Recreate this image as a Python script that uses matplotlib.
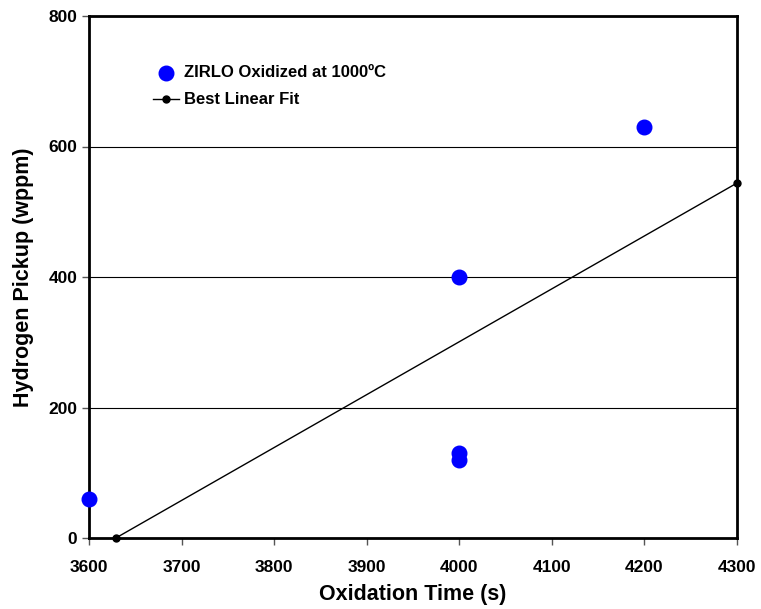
import numpy as np
import matplotlib.pyplot as plt

plt.rcParams['font.family'] = ['Liberation Sans', 'DejaVu Sans']
plt.rcParams['font.weight'] = 'bold'

# Datos medidos
tiempo_s = [3600, 4000, 4000, 4000, 4200]
hidrogeno_wppm = [60, 400, 130, 120, 630]

# Ajuste lineal (extremos)
ajuste_x = [3629, 4300]
ajuste_y = [0, 544]

x_ticks = [3600, 3700, 3800, 3900, 4000, 4100, 4200, 4300]
y_ticks = [0, 200, 400, 600, 800]

fig = plt.figure(figsize=(7.61, 6.09), dpi=100)
ax = fig.add_axes([89 / 761, 71 / 609, 648 / 761, 522 / 609])

ax.scatter(tiempo_s, hidrogeno_wppm, s=110, color="#0000ff", zorder=3,
           label="ZIRLO Oxidized at 1000ºC", clip_on=False)
ax.plot(ajuste_x, ajuste_y, color="black", linewidth=1, marker="o",
        markersize=5, label="Best Linear Fit", clip_on=False, zorder=4)

ax.set_xlim(3600, 4300)
ax.set_ylim(0, 800)
ax.set_xticks(x_ticks)
ax.set_yticks(y_ticks)
ax.yaxis.grid(True, color="black", linewidth=0.8)
ax.set_axisbelow(True)

for lado in ["left", "right", "top", "bottom"]:
    ax.spines[lado].set_linewidth(2)

ax.tick_params(axis="both", labelsize=12.5, width=1, length=5, direction="out",
               color="#555555")
ax.tick_params(axis="x", pad=11)
for etiqueta in ax.get_xticklabels() + ax.get_yticklabels():
    etiqueta.set_fontweight("bold")

ax.set_xlabel("Oxidation Time (s)", fontsize=15.5, fontweight="bold", labelpad=6)
ax.set_ylabel("Hydrogen Pickup (wppm)", fontsize=15.5, fontweight="bold", labelpad=10)

ax.legend(loc="upper left", bbox_to_anchor=(0.075, 0.935), frameon=False,
          prop={"weight": "bold", "size": 12}, handlelength=1.6,
          handletextpad=0.3, labelspacing=0.75)

fig.savefig("out.png", dpi=100)
